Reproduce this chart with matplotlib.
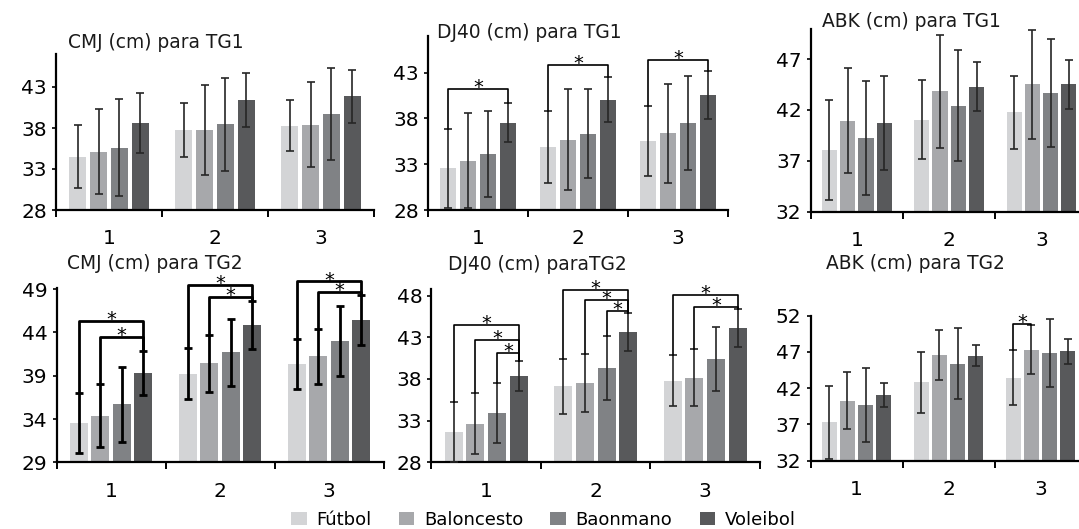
import matplotlib
matplotlib.use("Agg")
import matplotlib.pyplot as plt
from matplotlib.patches import Patch

plt.rcParams['font.family'] = ['DejaVu Sans']

W, H = 1079, 529

deportes = ["Fútbol", "Baloncesto", "Baonmano", "Voleibol"]
colores = ["#d3d4d6", "#a7a8ab", "#808285", "#58595b"]
grupos = ["1", "2", "3"]

# medias y desviaciones por grupo (filas) y deporte (columnas)
cmj_tg1 = [[34.5, 35.1, 35.6, 38.65], [37.75, 37.75, 38.45, 41.4], [38.3, 38.4, 39.75, 41.85]]
cmj_tg1_sd = [[3.85, 5.2, 5.95, 3.65], [3.25, 5.45, 5.7, 3.3], [3.1, 5.2, 5.6, 3.2]]

dj40_tg1 = [[32.55, 33.4, 34.1, 37.55], [34.9, 35.7, 36.35, 40.05], [35.55, 36.4, 37.5, 40.55]]
dj40_tg1_sd = [[4.35, 5.2, 4.7, 2.15], [3.9, 5.55, 4.9, 2.45], [3.85, 5.4, 5.1, 2.6]]

abk_tg1 = [[38.05, 40.95, 39.25, 40.7], [41.05, 43.85, 42.4, 44.3], [41.75, 44.5, 43.65, 44.5]]
abk_tg1_sd = [[4.9, 5.15, 5.6, 4.6], [3.9, 5.55, 5.45, 2.4], [3.6, 5.35, 5.3, 2.4]]

cmj_tg2 = [[33.55, 34.4, 35.7, 39.35], [39.25, 40.45, 41.7, 44.85], [40.35, 41.25, 43.0, 45.45]]
cmj_tg2_sd = [[3.45, 3.65, 4.35, 2.55], [2.95, 3.3, 3.9, 2.8], [2.85, 3.2, 4.05, 2.9]]

dj40_tg2 = [[31.65, 32.65, 33.9, 38.3], [37.15, 37.5, 39.35, 43.6], [37.8, 38.15, 40.4, 44.15]]
dj40_tg2_sd = [[3.6, 3.7, 3.6, 1.8], [3.3, 3.5, 3.85, 2.3], [3.1, 3.4, 3.85, 2.3]]

abk_tg2 = [[37.3, 40.3, 39.65, 41.05], [42.8, 46.6, 45.4, 46.5], [43.45, 47.3, 46.85, 47.1]]
abk_tg2_sd = [[5.0, 3.95, 5.1, 1.7], [4.2, 3.45, 4.95, 1.47], [3.8, 3.35, 4.75, 1.7]]

# corchetes de significación: (grupo, barra a, barra b, altura)
sig_dj40_tg1 = [(0, 0, 3, 41.2), (1, 0, 3, 43.85), (2, 0, 3, 44.4)]
sig_cmj_tg2 = [(0, 0, 3, 45.33), (0, 1, 3, 43.5), (1, 0, 3, 49.53), (1, 1, 3, 48.07),
               (2, 0, 3, 49.9), (2, 1, 3, 48.68)]
sig_dj40_tg2 = [(0, 0, 3, 44.48), (0, 1, 3, 42.68), (0, 2, 3, 41.16),
                (1, 0, 3, 48.68), (1, 1, 3, 47.48), (1, 2, 3, 46.16),
                (2, 0, 3, 48.08), (2, 1, 3, 46.6)]
sig_abk_tg2 = [(2, 0, 1, 50.86)]

offsets = [-0.297, -0.099, 0.099, 0.297]
bar_w = 0.163


def rect(x0, x1, ytop, ybot):
    return [x0 / W, 1 - ybot / H, (x1 - x0) / W, (ybot - ytop) / H]


fig = plt.figure(figsize=(W / 100, H / 100), dpi=100)


def panel(r, medias, sds, ylim, yticks, sig=(), lw=1.2, ecol="#262626"):
    ax = fig.add_axes(r)
    for j in range(4):
        xs = [g + 0.5 + offsets[j] for g in range(3)]
        ys = [medias[g][j] for g in range(3)]
        es = [sds[g][j] for g in range(3)]
        ax.bar(xs, [y - ylim[0] for y in ys], bottom=ylim[0], width=bar_w,
               color=colores[j], zorder=2)
        ax.errorbar(xs, ys, yerr=es, fmt="none", ecolor=ecol, elinewidth=lw,
                    capsize=2.6, capthick=lw, zorder=3, clip_on=False)
    for g, a, b, h in sig:
        xa = g + 0.5 + offsets[a]
        xb = g + 0.5 + offsets[b]
        ya = medias[g][a] + sds[g][a]
        yb = medias[g][b] + sds[g][b]
        ax.plot([xa, xa, xb, xb], [ya, h, h, yb], color="black", lw=lw,
                clip_on=False, zorder=4)
        ax.annotate("*", ((xa + xb) / 2, h), xytext=(0, -3), textcoords="offset points",
                    ha="center", va="baseline", fontsize=14, color="black",
                    annotation_clip=False)
    ax.set_xlim(0, 3)
    ax.set_ylim(*ylim)
    ax.set_yticks(yticks)
    ax.set_xticks([0, 1, 2, 3])
    ax.set_xticklabels([])
    ax.set_xticks([0.5, 1.5, 2.5], grupos, minor=True)
    ax.tick_params(axis="x", which="major", length=5, width=1.4, direction="out")
    ax.tick_params(axis="x", which="minor", length=0, pad=14, labelsize=14.5)
    ax.tick_params(axis="y", length=3, width=1.2, pad=3.6, labelsize=14.5)
    for s in ("top", "right"):
        ax.spines[s].set_visible(False)
    for s in ("left", "bottom"):
        ax.spines[s].set_linewidth(1.6)
    return ax


panel(rect(56, 374, 54.2, 210), cmj_tg1, cmj_tg1_sd, (28, 47), [28, 33, 38, 43])
panel(rect(428, 728, 36.1, 210), dj40_tg1, dj40_tg1_sd, (28, 47), [28, 33, 38, 43],
      sig_dj40_tg1)
panel(rect(810.7, 1087.6, 28.5, 211.7), abk_tg1, abk_tg1_sd, (32, 50), [32, 37, 42, 47])
panel(rect(56.5, 383.5, 287.5, 462.3), cmj_tg2, cmj_tg2_sd, (29, 49.2), [29, 34, 39, 44, 49],
      sig_cmj_tg2, lw=2.0, ecol="black")
panel(rect(431.5, 760, 289, 462.3), dj40_tg2, dj40_tg2_sd, (28, 48.8), [28, 33, 38, 43, 48],
      sig_dj40_tg2)
panel(rect(810.5, 1086.5, 315.7, 460.7), abk_tg2, abk_tg2_sd, (32, 52), [32, 37, 42, 47, 52],
      sig_abk_tg2)

titulos = [
    ("CMJ (cm) para TG1", 68, 42.5),
    ("DJ40 (cm) para TG1", 437.3, 33),
    ("ABK (cm) para TG1", 821.7, 21.5),
    ("CMJ (cm) para TG2", 66.7, 263.5),
    ("DJ40 (cm) paraTG2", 448.3, 264),
    ("ABK (cm) para TG2", 826, 263.8),
]
for t, x, y in titulos:
    fig.text(x / W, 1 - y / H, t, ha="left", va="center", fontsize=13.4, color="#1a1a1a")

handles = [Patch(facecolor=c, edgecolor="none") for c in colores]
fig.legend(handles, deportes, loc="center", bbox_to_anchor=(543.5 / W, 1 - 519.7 / H),
           ncol=4, frameon=False, fontsize=13, handlelength=0.85, handleheight=0.8,
           handletextpad=0.55, columnspacing=1.5, borderpad=0, borderaxespad=0)

fig.savefig("out.png", dpi=100)
